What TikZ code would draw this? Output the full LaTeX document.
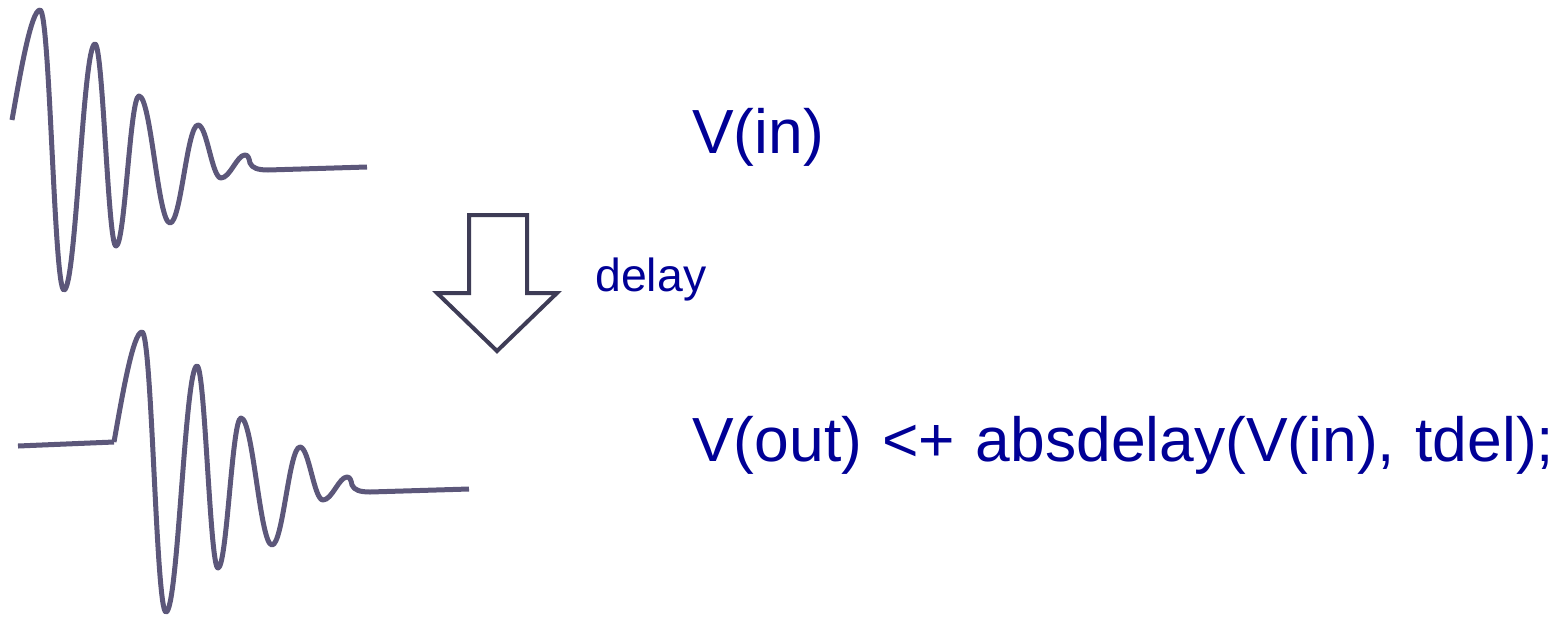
\documentclass[tikz,border=0pt]{standalone}
\usepackage{fontspec}
\setmainfont[Kerning=Off]{Liberation Sans}
\definecolor{wavecol}{RGB}{92,87,122}
\definecolor{arrowcol}{RGB}{62,60,86}
\definecolor{textcol}{RGB}{0,0,150}
\newcommand\codefont{\fontsize{35.5}{42}\selectfont\spaceskip=11.6pt\relax}
\begin{document}
\begin{tikzpicture}[x=0.02cm,y=-0.02cm,
  wave/.style={draw=wavecol,line width=0.1cm,line join=round},
  bigarrow/.style={draw=arrowcol,line width=0.08cm,fill=white,line join=miter},
  bigtext/.style={text=textcol,inner sep=0pt,anchor=base west,font=\codefont},
  smalltext/.style={text=textcol,inner sep=0pt,anchor=base west,font=\fontsize{26.4}{32}\selectfont},
  ringing/.pic={
    \draw[wave] (12,120) .. controls (20,75) and (31,10) .. (40,10)
      .. controls (50,10) and (54,290) .. (64,290)
      .. controls (76,290) and (83,44) .. (95,44)
      .. controls (103,44) and (108,246) .. (116,246)
      .. controls (125,246) and (130,96) .. (139,96)
      .. controls (151,96) and (158,223) .. (170,223)
      .. controls (181,223) and (187,125) .. (198,125)
      .. controls (207,125) and (212,178) .. (221,178)
      .. controls (230,178) and (237,155) .. (245,155)
      .. controls (248,155) and (249,158) .. (250,163)
      .. controls (252,168) and (258,170) .. (268,170)
      -- (367,167);
  }]
\useasboundingbox (0,0) rectangle (1568,616);

% input waveform
\pic at (0,0) {ringing};

% delayed output waveform with its leading flat segment
\coordinate (lead) at (18,446);
\coordinate (onset) at (114,442);
\draw[wave] (lead) -- (onset);
\pic at (102,322) {ringing};

% block arrow
\draw[bigarrow] (469,215) -- (527,215) -- (527,293) -- (557,293)
  -- (497,351) -- (437,293) -- (469,293) -- cycle;

% labels
\node[bigtext] (vin) at (692,153) {V(in)};
\node[smalltext] (dly) at (595,291) {delay};
\node[bigtext] (vout) at (692,461) {V(out) <+ absdelay(V(in), tdel);};
\end{tikzpicture}
\end{document}
